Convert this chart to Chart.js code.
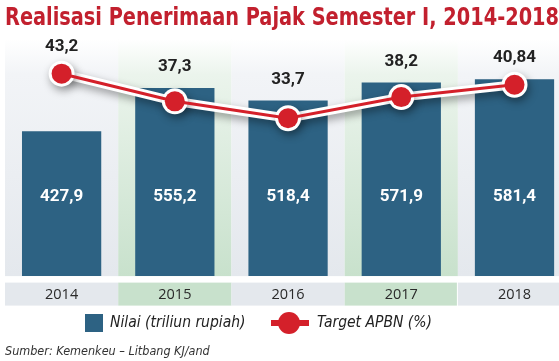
<!DOCTYPE html>
<html>
<head>
<meta charset="utf-8">
<script src="https://cdn.jsdelivr.net/npm/chart.js@4.4.1/dist/chart.umd.min.js"></script>
<style>
  html, body { margin: 0; padding: 0; background: #fff; }
  #wrap { width: 559px; height: 361px; }
</style>
</head>
<body>
<div id="wrap"><canvas id="chart"></canvas></div>
<script>
// data
const YEARS = ['2014', '2015', '2016', '2017', '2018'];
const NILAI = [427.9, 555.2, 518.4, 571.9, 581.4];      // triliun rupiah
const TARGET = [43.2, 37.3, 33.7, 38.2, 40.84];         // % of APBN target
const LABEL_NILAI = 'Nilai (triliun rupiah)';
const LABEL_TARGET = 'Target APBN (%)';
const TITLE = 'Realisasi Penerimaan Pajak Semester I, 2014-2018';
const SOURCE = 'Sumber: Kemenkeu \u2013 Litbang KJ/and';

const BLUE = '#2d6283';
const RED = '#d4202a';
const TITLE_RED = '#c2202e';
const GRAY = '#e4e8ed';
const GREEN = '#c8e1cc';
const TEXT = '#222';
const NARROW = '"Liberation Sans Narrow", "DejaVu Sans Condensed", sans-serif';

const fmt = (v) => String(v).replace('.', ',');

// column stripes behind the bars and the cells behind the year labels
const stripes = {
  id: 'stripes',
  beforeDraw(chart) {
    const { ctx, chartArea: a, scales: { x } } = chart;
    const w = x.getPixelForValue(1) - x.getPixelForValue(0);
    ctx.save();
    YEARS.forEach((_, i) => {
      const cx = x.getPixelForValue(i);
      const green = i % 2 === 1;
      const g = ctx.createLinearGradient(0, a.top, 0, a.bottom);
      g.addColorStop(0, '#ffffff');
      g.addColorStop(0.15, green ? '#ebf4ec' : '#f2f4f7');
      g.addColorStop(1, green ? GREEN : GRAY);
      ctx.fillStyle = g;
      ctx.fillRect(cx - w / 2, a.top, w, a.bottom - a.top);
      ctx.fillStyle = green ? GREEN : GRAY;
      ctx.fillRect(cx - w / 2, a.bottom + 6.5, w - (i === 3 ? 1 : 0), 23);
    });
    ctx.restore();
  }
};

// white line outline gets a soft drop shadow
const shadow = {
  id: 'shadow',
  beforeDatasetDraw(chart, args) {
    if (chart.data.datasets[args.index].outline) {
      const ctx = chart.ctx;
      ctx.save();
      ctx.shadowColor = 'rgba(0,0,0,0.38)';
      ctx.shadowBlur = 8;
      ctx.shadowOffsetX = 2;
      ctx.shadowOffsetY = 4;
    }
  },
  afterDatasetDraw(chart, args) {
    if (chart.data.datasets[args.index].outline) chart.ctx.restore();
  }
};

// numbers in the bars and above the line
const valueLabels = {
  id: 'valueLabels',
  afterDatasetsDraw(chart) {
    const { ctx } = chart;
    const bars = chart.getDatasetMeta(0).data;
    const pts = chart.getDatasetMeta(2).data;
    ctx.save();
    ctx.textAlign = 'center';
    ctx.textBaseline = 'middle';
    ctx.font = 'bold 17px Roboto, "Liberation Sans", sans-serif';
    bars.forEach((b, i) => {
      ctx.fillStyle = '#fff';
      ctx.fillText(fmt(NILAI[i]), b.x, 197);
      const y = Math.min(b.y - 21, pts[i].y - 27);
      ctx.fillStyle = TEXT;
      ctx.fillText(fmt(TARGET[i]), pts[i].x, y);
    });
    ctx.restore();
  }
};

// legend row and source line
const legendRow = {
  id: 'legendRow',
  afterDraw(chart) {
    const { ctx } = chart;
    ctx.save();
    ctx.fillStyle = BLUE;
    ctx.fillRect(85, 314, 18, 18);
    ctx.strokeStyle = RED;
    ctx.lineWidth = 6;
    ctx.beginPath();
    ctx.moveTo(271, 323);
    ctx.lineTo(309, 323);
    ctx.stroke();
    ctx.fillStyle = RED;
    ctx.beginPath();
    ctx.arc(289, 323, 11, 0, Math.PI * 2);
    ctx.fill();
    ctx.fillStyle = TEXT;
    ctx.textBaseline = 'middle';
    ctx.font = 'italic 15.5px ' + NARROW;
    ctx.fillText(LABEL_NILAI, 110, 323);
    ctx.fillText(LABEL_TARGET, 317, 323);
    ctx.fillStyle = '#333';
    ctx.font = 'italic 12.5px ' + NARROW;
    ctx.fillText(SOURCE, 5, 352);
    ctx.restore();
  }
};

const pts = (arr) => arr.map((v, i) => ({ x: i, y: v }));

new Chart(document.getElementById('chart'), {
  data: {
    datasets: [
      {
        type: 'bar', label: LABEL_NILAI, data: pts(NILAI), yAxisID: 'y',
        backgroundColor: BLUE, categoryPercentage: 1, barPercentage: 0.7, grouped: false, order: 3
      },
      {
        type: 'line', label: 'outline', outline: true, data: pts(TARGET), yAxisID: 'y2',
        borderColor: '#fff', borderWidth: 9, pointRadius: 13, pointBackgroundColor: '#fff',
        pointBorderWidth: 0, order: 2
      },
      {
        type: 'line', label: LABEL_TARGET, data: pts(TARGET), yAxisID: 'y2',
        borderColor: RED, borderWidth: 3, pointRadius: 10, pointBackgroundColor: RED,
        pointBorderWidth: 0, order: 1
      }
    ]
  },
  options: {
    responsive: true,
    maintainAspectRatio: false,
    animation: false,
    layout: { autoPadding: false, padding: { left: 5, right: 0, top: 0, bottom: 47.5 } },
    plugins: {
      legend: { display: false },
      tooltip: { enabled: false },
      title: {
        display: true, text: TITLE, align: 'start', color: TITLE_RED,
        font: { family: NARROW, size: 25, weight: 'bold' },
        padding: { top: 3, bottom: 6 }
      }
    },
    scales: {
      x: {
        type: 'linear', min: -0.5, max: 4.393, offset: false,
        grid: { display: false, drawTicks: false }, border: { display: false },
        afterBuildTicks: (s) => { s.ticks = YEARS.map((_, i) => ({ value: i })); },
        ticks: {
          padding: 10, maxRotation: 0, autoSkip: false,
          color: '#2a2a2a', font: { family: '"Open Sans", sans-serif', size: 14.5 },
          callback: (v) => YEARS[v]
        }
      },
      y: { display: false, min: 0, max: 700 },
      y2: { display: false, min: 0, max: 50.6 }
    }
  },
  plugins: [stripes, shadow, valueLabels, legendRow]
});
</script>
</body>
</html>
